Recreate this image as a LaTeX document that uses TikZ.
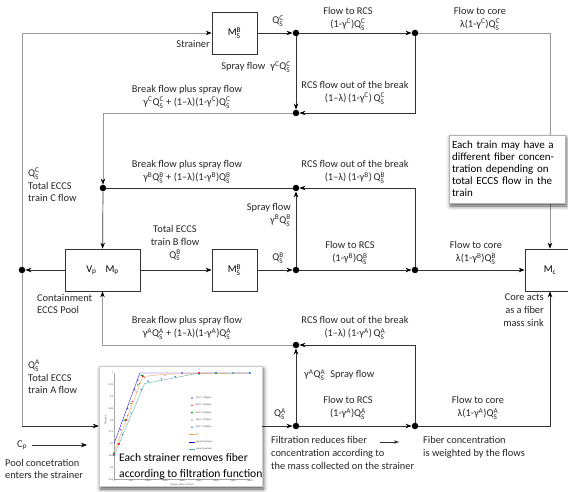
\documentclass[tikz,border=0pt]{standalone}
\usepackage{amsmath}
\usepackage{fontspec}
\setmainfont{Carlito}
\usetikzlibrary{positioning,arrows.meta,shadows.blur}

\newcommand\QS[1]{Q\ensuremath{^{\text{#1}}_{\text{S}}}}
\newcommand\gam[1]{γ\ensuremath{^{\text{#1}}}}
\newcommand\MS[1]{M\ensuremath{^{\text{#1}}_{\text{S}}}}

\begin{document}
\begin{tikzpicture}[x=1pt, y=-1pt, font=\fontsize{10.4}{12.8}\selectfont, text=black!85,
  box/.style={draw=black!80, line width=0.7pt, minimum width=45pt, minimum height=42pt, inner sep=2pt, text=black},
  dot/.style={circle, fill=black, inner sep=0pt, minimum size=6.5pt},
  lab/.style={align=center, inner sep=1pt},
  pipe/.style={draw=black!80, line width=0.7pt},
  arr/.style={pipe, -{Stealth[length=6pt, width=4.5pt, color=black]}},
  feed/.style={draw=black!40, line width=0.7pt},
  farr/.style={feed, -{Stealth[length=6pt, width=4.5pt, color=black]}},
  note/.style={draw=black!30, fill=white, align=left, text=black, inner sep=3pt,
    blur shadow={shadow xshift=1.5pt, shadow yshift=-3pt, shadow blur radius=4pt, shadow opacity=70}},
  tick/.style={font=\fontsize{2.5}{3}\selectfont, inner sep=0.6pt, text=black!70}]
\useasboundingbox (0,0) rectangle (568,492);

% tanks and strainers
\node[box] (strC) at (234.5,33) {\MS{B}};
\node[box, minimum width=75pt] (pool) at (102.5,270) {V\textsubscript{p}\hspace{9pt}M\textsubscript{p}};
\node[box] (strB) at (234.5,270) {\MS{B}};
\node[box, minimum width=50pt] (core) at (550,270) {M\textsubscript{c}};

% junctions
\node[dot] (jC1) at (296,33) {};
\node[dot] (jC2) at (415,33) {};
\node[dot] (jC3) at (296,113) {};
\node[dot] (jB1) at (296,270) {};
\node[dot] (jB2) at (415,270) {};
\node[dot] (jB3) at (103,188) {};
\node[dot] (jB4) at (296,188) {};
\node[dot] (jA1) at (296,426) {};
\node[dot] (jA2) at (415,426) {};
\node[dot] (jA4) at (296,345) {};
\node[dot] (jP) at (22,270) {};
\coordinate (tl) at (22,33);
\coordinate (bl) at (22,426);

% filtration chart
\node[note, draw=black!20, minimum width=163pt, minimum height=120pt] (chart) at (180.5,426) {};
\begin{scope}[shift={(114,609)}, x=0.034pt, y=236pt]
  \draw[black!35, line width=0.3pt] (0,1) -- (0,0.55) -- (4000,0.55);
  \foreach \f/\t in {1/1, 0.95/0.95, 0.9/0.9, 0.85/0.85, 0.8/0.8, 0.75/0.75, 0.7/0.7, 0.65/0.65, 0.6/0.6, 0.55/0.55}
    \node[tick, anchor=east] at (0,\f) {\t};
  \foreach \g in {0,500,...,4000}
    \node[tick, anchor=north] at (\g,0.55) {\g};
  \node[tick, anchor=north] at (2000,0.535) {Strainer Mass in Grams};
  \node[tick, rotate=90] at (-250,0.8) {Filtration};
  \draw[blue!70!violet, line width=0.35pt] (0,0.70) -- (760,1) -- (4000,1);
  \draw[orange!80, line width=0.35pt] (0,0.665) -- (850,0.985) -- (1500,0.995) -- (4000,1);
  \draw[teal!70, line width=0.35pt] (0,0.65) -- (900,0.955) -- (2500,1) -- (4000,1);
  \foreach \g/\f in {0/0.66, 200/0.76, 400/0.85, 600/0.93, 700/0.97, 800/0.99, 2000/1, 3000/1, 4000/1}
    \fill[blue!80] (\g,\f) circle (0.8pt);
  \foreach \g/\f in {0/0.655, 150/0.70, 350/0.80, 550/0.88, 750/0.955, 850/0.985, 2500/1}
    \fill[red!80] ([shift={(-0.8pt,-0.8pt)}]\g,\f) rectangle ++(1.6pt,1.6pt);
  \foreach \g/\f in {0/0.66, 300/0.80, 500/0.87, 700/0.95, 850/0.99, 3000/1}
    \fill[green!60!black] (\g,\f) circle (0.8pt);
  \foreach \g/\f in {100/0.70, 400/0.82, 650/0.92, 900/0.98, 1500/0.99, 3500/1}
    \fill[black!40] (\g,\f) circle (0.7pt);
  \foreach \g/\f in {0/0.65, 250/0.74, 500/0.83, 800/0.93, 1000/0.965, 1400/0.975, 1800/0.985, 2500/0.995, 3500/1, 4000/1}
    \fill[cyan!70!blue] (\g,\f) circle (0.8pt);
\end{scope}
\foreach \c/\t [count=\i from 0] in {blue!80/Test 1: 350gpm, red!80/Test 2: 350gpm, green!60!black/Test 3: 350gpm, black!40/Test 5: 350gpm, cyan!70!blue/Test 7: 220gpm} {
  \fill[\c] (192,{398+7.3*\i}) circle (0.9pt);
  \node[tick, anchor=west] at (195,{398+7.3*\i}) {\t};
}
\foreach \c/\t [count=\i from 5] in {orange!80/Fit, blue!70!violet/Upper Envelope, teal!70/Lower Envelope} {
  \draw[\c, line width=0.4pt] (189,{398+7.3*\i}) -- (194.5,{398+7.3*\i});
  \node[tick, anchor=west] at (195,{398+7.3*\i}) {\t};
}
\node[anchor=west, align=left, inner sep=0pt, text=black, font=\fontsize{11.6}{16}\selectfont] (ovl) at (119,466) {Each strainer removes fiber\\according to filtration function};

% flow lines
\draw[feed] (jP) -- (tl);
\draw[farr] (tl) -- (strC);
\draw[feed] (jP) -- (bl);
\draw[arr] (bl) -- (chart);
\draw[arr] (pool) -- (jP);
\draw[arr] (strC) -- (jC1);
\draw[arr] (jC1) -- (jC2);
\draw[arr] (jC1) -- (jC3);
\draw[arr] (jC2) |- (jC3);
\draw[farr] (jC3) -| (jB3);
\draw[arr] (jB3) -- (pool);
\draw[pipe] (jB4) -- (jB3);
\draw[farr] (jC2) -| (core);
\draw[arr] (pool) -- (strB);
\draw[arr] (strB) -- (jB1);
\draw[arr] (jB1) -- (jB2);
\draw[arr] (jB1) -- (jB4);
\draw[arr] (jB2) |- (jB4);
\draw[arr] (jB2) -- (core);
\draw[arr] (chart) -- (jA1);
\draw[arr] (jA1) -- (jA2);
\draw[arr] (jA1) -- (jA4);
\draw[arr] (jA2) |- (jA4);
\draw[farr] (jA4) -| (pool);
\draw[arr] (jA2) -| (core);

% callout over the core feed
\node[note, text width=110pt, minimum height=68pt, font=\fontsize{11}{12}\selectfont] (trainnote) at (507,169) {Each train may have a\\different fiber concen-\\tration depending on\\total ECCS flow in the\\train};

% train C labels
\node[lab, anchor=east] (strlab) at (211,44) {Strainer};
\node[lab, anchor=east] at (292,67) {Spray flow\enspace\gam{C}\QS{C}};
\node[lab] at (278,21) {\QS{C}};
\node[lab] at (348,19) {Flow to RCS\\(1-\gam{C})\QS{C}};
\node[lab] at (480,19) {Flow to core\\λ(1-\gam{C})\QS{C}};
\node[lab] at (355,93) {RCS flow out of the break\\(1–λ)\,(1-\gam{C})\,\QS{C}};
\node[lab] at (187,97) {Break flow plus spray flow\\\gam{C}\QS{C} + (1–λ)(1-\gam{C})\QS{C}};
\node[lab, anchor=west, align=left] at (27,185) {\QS{C}\\Total ECCS\\train C flow};

% train B labels
\node[lab] at (187,172) {Break flow plus spray flow\\\gam{B}\QS{B} + (1–λ)(1-\gam{B})\QS{B}};
\node[lab] at (355,172) {RCS flow out of the break\\(1–λ)\,(1-\gam{B})\,\QS{B}};
\node[lab, anchor=east, align=right] at (292,215) {Spray flow\\\gam{B}\QS{B}};
\node[lab] at (175,243) {Total ECCS\\train B flow\\\QS{B}};
\node[lab] at (278,258) {\QS{B}};
\node[lab] at (350,253) {Flow to RCS\\(1-\gam{B})\QS{B}};
\node[lab] at (476,253) {Flow to core\\λ(1-\gam{B})\QS{B}};
\node[lab, anchor=west, align=left] at (36,304) {Containment\\ECCS Pool};
\node[lab, anchor=east, align=right] at (545,310) {Core acts\\as a fiber\\mass sink};

% train A labels
\node[lab] at (187,328) {Break flow plus spray flow\\\gam{A}\QS{A} + (1–λ)(1-\gam{A})\QS{A}};
\node[lab] at (355,328) {RCS flow out of the break\\(1–λ)\,(1-\gam{A})\,\QS{A}};
\node[lab, anchor=west] at (303,375) {\gam{A}\QS{A}\enspace Spray flow};
\node[lab] at (348,408) {Flow to RCS\\(1-\gam{A})\QS{A}};
\node[lab] at (478,408) {Flow to core\\λ(1-\gam{A})\QS{A}};
\node[lab] at (280,414) {\QS{A}};
\node[lab, anchor=west, align=left] at (27,377) {\QS{A}\\Total ECCS\\train A flow};

% bottom notes
\node[lab] (cp) at (22,445) {C\textsubscript{p}};
\coordinate (cpend) at (87,445);
\draw[arr, line width=0.5pt, shorten <=4pt] (cp) -- (cpend);
\node[lab, anchor=west, align=left] at (4,469) {Pool concetration\\enters the strainer};
\node[lab, anchor=north west, align=left] (filt) at (270,435) {Filtration reduces fiber\\concentration according to\\the mass collected on the strainer};
\coordinate (fa1) at (380,442);
\coordinate (fa2) at (399,442);
\draw[arr, line width=0.5pt, -{Stealth[length=5pt, width=3.5pt]}] (fa1) -- (fa2);
\node[lab, anchor=north west, align=left] (fibnote) at (422,435) {Fiber concentration\\is weighted by the flows};
\end{tikzpicture}
\end{document}
